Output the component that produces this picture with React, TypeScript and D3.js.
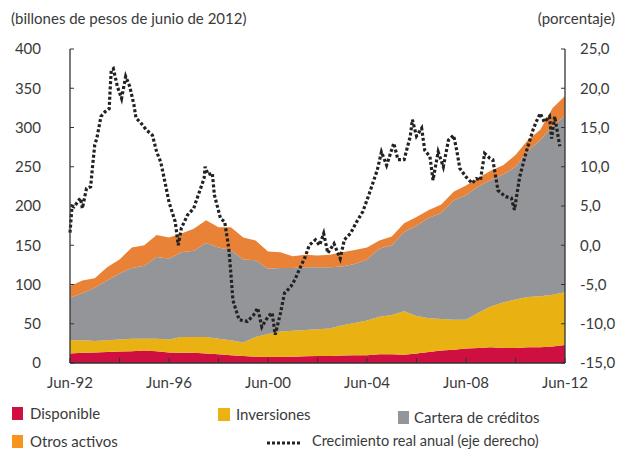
import React from "react";
import * as d3 from "d3";

// Months since Jun-92 for the stacked areas (semiannual readings)
const areaMonths = d3.range(0, 241, 6);
const disponible = [12, 13, 13.5, 14, 14.5, 15, 16, 15, 13.5, 13, 13, 12, 11, 10, 9, 8, 7.5, 8, 8, 8.5, 9, 9, 9.5, 10, 10, 11, 11, 10.5, 12, 14, 16, 17, 18.5, 19, 20, 19, 19, 20, 20, 21, 23];
const inversiones = [17, 16, 14.5, 15, 15.5, 16, 15, 16, 16.5, 20, 20, 21, 20, 19, 17, 25, 29.5, 32, 33, 33.5, 34, 35, 38.5, 41, 44, 48, 50, 55.5, 48, 43, 40, 38, 36.5, 45, 52, 58, 62, 64, 65, 66, 67];
const cartera = [54, 60, 68, 76, 84, 90, 93, 104, 103, 108, 110, 120, 116, 115, 106, 98, 83, 81, 80, 80, 79, 78, 75, 75, 78, 87, 89, 101, 115, 128, 135, 152, 159, 161, 161, 163, 169, 186, 199, 215, 225];
const otros = [15, 16, 12, 17, 18, 26, 26, 28, 27, 24, 28, 29, 26, 29, 28, 25, 22, 20, 15, 16, 15, 16, 18, 18, 15, 10, 11, 11, 11, 10, 11, 11, 12, 11, 12, 12, 15, 14, 13, 23, 25];

// Real annual growth (right axis), months since Jun-92
const lineMonths = [0, 1, 2, 5, 6, 8, 10, 11, 12, 13, 15, 17, 19, 19.5, 20, 21, 23, 25, 27, 29, 31, 32, 34, 37, 40, 42, 44, 46, 48, 51, 52.5, 54, 57, 60, 61, 65, 65.5, 67, 69, 70, 73, 75, 77, 78, 79, 81, 82, 86, 89, 91, 93, 96, 98, 99.5, 102, 104, 107, 109, 111, 114, 116, 119, 121, 123, 125, 128, 131, 133, 136, 139, 142, 145, 149, 151, 153.5, 157, 159, 162, 165, 166, 168, 170.5, 172, 174.5, 176, 178.5, 181, 183.5, 186, 187.5, 189, 192, 195, 197, 199, 201, 203.5, 205, 207.5, 211, 214, 215.5, 218, 221, 224.5, 226, 228, 230, 232.5, 233.5, 235, 237.5];
const growth = [1.6, 5.0, 4.9, 6.0, 4.7, 7.25, 7.45, 10.2, 12.8, 13.6, 16.4, 17.0, 17.4, 20.0, 22.3, 22.5, 20.2, 18.7, 21.5, 20.2, 17.9, 16.2, 15.7, 14.7, 14.0, 11.9, 10.6, 8.1, 5.5, 3.0, 0.0, 2.2, 3.85, 4.7, 5.5, 8.5, 10.0, 9.0, 9.2, 6.4, 3.4, 3.0, -0.4, -3.6, -7.0, -8.7, -9.5, -9.7, -8.9, -8.0, -10.4, -9.1, -8.6, -11.4, -8.7, -6.1, -5.3, -4.4, -3.2, -1.5, 0.0, 0.7, 0.0, 1.5, -1.0, 0.2, -1.7, 0.7, 1.5, 3.0, 4.3, 6.5, 9.6, 11.9, 10.2, 13.0, 10.9, 10.9, 13.9, 16.0, 13.9, 14.9, 12.1, 11.3, 8.3, 11.9, 10.0, 13.4, 14.0, 12.1, 9.8, 8.7, 7.9, 8.5, 8.3, 11.7, 11.1, 10.9, 7.0, 6.2, 6.0, 4.5, 8.7, 11.7, 14.7, 15.7, 16.8, 15.7, 16.4, 13.6, 16.4, 12.6];

const xTickMonths = d3.range(0, 241, 24);
const xLabels = ["Jun-92", "Jun-96", "Jun-00", "Jun-04", "Jun-08", "Jun-12"];
const leftTicks = [0, 50, 100, 150, 200, 250, 300, 350, 400];
const rightTicks = [-15, -10, -5, 0, 5, 10, 15, 20, 25];

const keys = ["disponible", "inversiones", "cartera", "otros"];
const colors: Record<string, string> = {
  disponible: "#cf0f42",
  inversiones: "#e9b111",
  cartera: "#939598",
  otros: "#e98236",
};

const FONT = "Lato, 'Open Sans', sans-serif";
const TEXT = "#3a3a3a";

export default function App() {
  const W = 618, H = 451;
  const x0 = 70, x1 = 565, yTop = 49, yBot = 363;
  const x = d3.scaleLinear().domain([0, 240]).range([x0, x1]);
  const yL = d3.scaleLinear().domain([0, 400]).range([yBot, yTop]);
  const yR = d3.scaleLinear().domain([-15, 25]).range([yBot, yTop]);

  const table = areaMonths.map((m, i) => ({
    m,
    disponible: disponible[i],
    inversiones: inversiones[i],
    cartera: cartera[i],
    otros: otros[i],
  }));
  const series = d3.stack<any>().keys(keys)(table);
  const area = d3
    .area<any>()
    .x((d) => x(d.data.m))
    .y0((d) => yL(d[0]))
    .y1((d) => yL(d[1]));

  const linePts: [number, number][] = lineMonths.map((m, i) => [m, growth[i]]);
  const line = d3
    .line<[number, number]>()
    .x((d) => x(d[0]))
    .y((d) => yR(d[1]));

  const axisColor = "#333";
  const fmtR = (v: number) => v.toFixed(1).replace(".", ",");

  return (
    <svg width={W} height={H} style={{ position: "absolute", left: 0, top: 0 }} fontFamily={FONT}>
      <rect width={W} height={H} fill="#fff" />
      <text x={11} y={24} fontSize={15} fill={TEXT}>(billones de pesos de junio de 2012)</text>
      <text x={615} y={24} fontSize={15} fill={TEXT} textAnchor="end">(porcentaje)</text>

      {series.map((s) => (
        <path key={s.key} d={area(s) || ""} fill={colors[s.key]} />
      ))}

      <path
        d={line(linePts) || ""}
        fill="none"
        stroke="#222"
        strokeWidth={3.2}
        strokeDasharray="3,2.2"
      />

      {/* axes */}
      <line x1={x0} x2={x0} y1={yTop} y2={yBot} stroke={axisColor} strokeWidth={1.3} />
      <line x1={x1} x2={x1} y1={yTop} y2={yBot} stroke={axisColor} strokeWidth={1.3} />
      <line x1={x0} x2={x1} y1={yBot} y2={yBot} stroke={axisColor} strokeWidth={1.3} />
      {xTickMonths.map((m) => (
        <line key={m} x1={x(m)} x2={x(m)} y1={yBot} y2={yBot - 5} stroke={axisColor} strokeWidth={1} />
      ))}
      {leftTicks.map((v) => (
        <g key={v}>
          <line x1={x0} x2={x0 + 4} y1={yL(v)} y2={yL(v)} stroke={axisColor} strokeWidth={1} />
          <text x={41} y={yL(v)} dy="0.35em" fontSize={15} fill={TEXT} textAnchor="end">{v}</text>
        </g>
      ))}
      {rightTicks.map((v) => (
        <g key={v}>
          <line x1={x1} x2={x1 - 4} y1={yR(v)} y2={yR(v)} stroke={axisColor} strokeWidth={1} />
          <text x={580} y={yR(v)} dy="0.35em" fontSize={15} fill={TEXT}>{fmtR(v)}</text>
        </g>
      ))}
      {xLabels.map((l, i) => (
        <text key={l} x={x(i * 48)} y={388} fontSize={15} fill={TEXT} textAnchor="middle">{l}</text>
      ))}

      {/* legend */}
      <rect x={12} y={407} width={11} height={13} fill="#cf0f42" />
      <text x={30} y={419} fontSize={15} fill={TEXT}>Disponible</text>
      <rect x={218} y={408} width={12} height={13} fill="#ebb312" />
      <text x={236} y={420} fontSize={15} fill={TEXT}>Inversiones</text>
      <rect x={398} y={411} width={11} height={13} fill="#939598" />
      <text x={414} y={423} fontSize={15} fill={TEXT}>Cartera de créditos</text>
      <rect x={12} y={435} width={11} height={13} fill="#f7941d" />
      <text x={30} y={447} fontSize={15} fill={TEXT}>Otros activos</text>
      <line x1={267} x2={302} y1={443} y2={443} stroke="#222" strokeWidth={3} strokeDasharray="3,2" />
      <text x={312} y={446} fontSize={14.5} fill={TEXT}>Crecimiento real anual (eje derecho)</text>
    </svg>
  );
}
